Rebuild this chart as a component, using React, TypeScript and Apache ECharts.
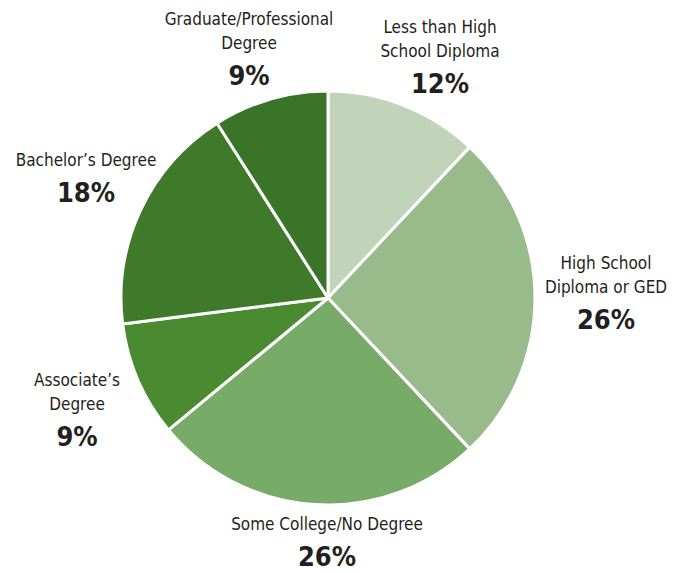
import React, { useEffect, useRef } from "react";
import * as echarts from "echarts";

const categories = [
  "Less than High\nSchool Diploma",
  "High School\nDiploma or GED",
  "Some College/No Degree",
  "Associate’s\nDegree",
  "Bachelor’s Degree",
  "Graduate/Professional\nDegree",
];
const values = [12, 26, 26, 9, 18, 9];
const colors = ["#c1d4ba", "#97bb8b", "#78ab68", "#4a8a30", "#3f7a2a", "#3a7429"];
// label block centre offsets from pie centre (layout only)
const labelOffsets = [
  [112, -239],
  [278, -3],
  [-1, 246],
  [-251, 114],
  [-242, -118],
  [-79, -247],
];

const CX = 328;
const CY = 298;
const FONT = "'Liberation Sans Narrow', 'DejaVu Sans Condensed', sans-serif";

export default function App() {
  const ref = useRef<HTMLDivElement>(null);
  useEffect(() => {
    const chart = echarts.init(ref.current!, undefined, { renderer: "svg" });
    chart.setOption({
      animation: false,
      backgroundColor: "#ffffff",
      series: [
        {
          type: "pie",
          center: [CX, CY],
          radius: [0, 207],
          startAngle: 90,
          clockwise: true,
          avoidLabelOverlap: false,
          data: categories.map((c, i) => ({
            name: c,
            value: values[i],
            itemStyle: { color: colors[i] },
          })),
          itemStyle: { borderColor: "#ffffff", borderWidth: 3 },
          labelLine: { show: false },
          emphasis: { disabled: true },
          label: {
            show: true,
            position: "outside",
            formatter: (p: any) => `{n|${p.name}}\n{p|${p.value}%}`,
            rich: {
              n: {
                fontFamily: FONT,
                fontSize: 17,
                lineHeight: 24,
                color: "#231f20",
                align: "center",
              },
              p: {
                fontFamily: FONT,
                fontSize: 27,
                fontWeight: "bold",
                lineHeight: 40,
                color: "#231f20",
                align: "center",
              },
            },
          },
          labelLayout: (params: any) => {
            const o = labelOffsets[params.dataIndex];
            return {
              x: CX + o[0],
              y: CY + o[1],
              align: "center",
              verticalAlign: "middle",
            };
          },
        },
      ],
    });
    return () => chart.dispose();
  }, []);
  return (
    <div
      ref={ref}
      style={{ position: "fixed", left: 0, top: 0, width: 677, height: 573 }}
    />
  );
}
